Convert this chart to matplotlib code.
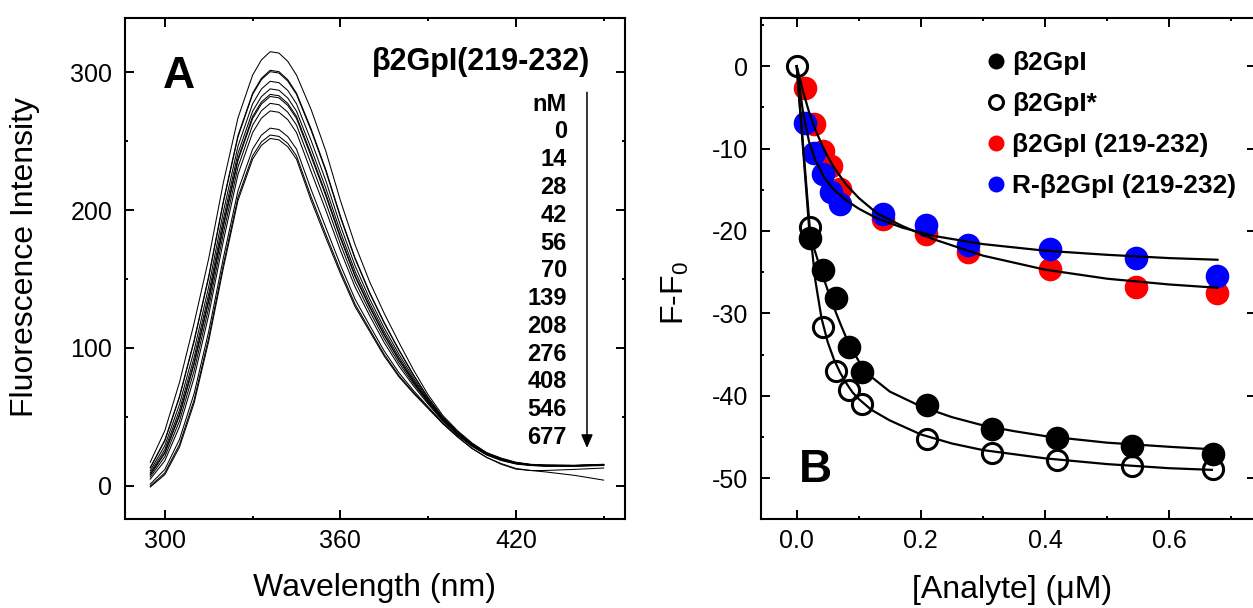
import numpy as np
import matplotlib
matplotlib.use("Agg")
import matplotlib.pyplot as plt
from matplotlib.lines import Line2D
from matplotlib.ticker import MultipleLocator

plt.rcParams['font.family'] = ['Liberation Sans', 'DejaVu Sans']
plt.rcParams['mathtext.fontset'] = 'custom'
plt.rcParams['mathtext.rm'] = 'Liberation Sans'
plt.rcParams['mathtext.default'] = 'regular'
plt.rcParams['axes.unicode_minus'] = False

# ---- panel A: emission spectra ----
wavelength = [295, 300, 305, 310, 315, 320, 325, 330, 333, 336, 339, 342, 345, 350, 355, 360,
              365, 370, 375, 380, 385, 390, 395, 400, 405, 410, 415, 420, 425, 430, 440, 450]

s0 = [17, 40, 75, 118, 165, 220, 267, 298, 309, 315, 314, 308, 298, 273, 243, 207,
      175, 148, 125, 104, 84, 66, 51, 40, 31, 24, 20, 17, 15.5, 15, 14.8, 15.5]
s14 = [13.1, 33.2, 64.9, 105.6, 152.2, 206.7, 254.2, 284.9, 295.7, 301.5, 300.5, 294.7, 284.9, 258.9, 229.5, 195.7,
       165.4, 140.3, 118.4, 98.7, 80.4, 63.9, 49.7, 39.1, 30.4, 23.6, 19.6, 16.7, 15.3, 14.8, 14.6, 15.3]
s28 = [12.9, 32.6, 64.2, 104.7, 151.2, 205.7, 253.2, 284.0, 294.7, 300.5, 299.5, 293.7, 284.0, 257.8, 228.5, 194.8,
       164.7, 139.7, 117.9, 98.3, 80.1, 63.7, 49.6, 39.1, 30.3, 23.5, 19.5, 16.7, 15.3, 14.8, 14.6, 15.3]
s42 = [10.9, 29.1, 59.0, 98.2, 144.5, 198.9, 246.5, 277.2, 287.9, 293.5, 292.5, 286.9, 277.2, 250.5, 221.5, 188.9,
       159.7, 135.7, 114.4, 95.5, 78.2, 62.6, 49.0, 38.6, 30.0, 23.3, 19.3, 16.5, 15.2, 14.7, 14.5, 15.2]
s56 = [9.3, 26.3, 54.8, 93.1, 139.3, 193.4, 241.3, 271.8, 282.4, 288.0, 287.0, 281.4, 271.8, 244.7, 216.0, 184.3,
       155.7, 132.6, 111.7, 93.3, 76.7, 61.7, 48.4, 38.3, 29.7, 23.1, 19.1, 16.4, 15.1, 14.6, 14.5, 15.1]
s70 = [8.1, 24.3, 51.9, 89.5, 135.5, 189.5, 237.5, 268.0, 278.5, 284.0, 283.0, 277.5, 268.0, 240.5, 212.0, 180.9,
       152.9, 130.3, 109.7, 91.7, 75.6, 61.1, 48.0, 38.0, 29.5, 23.0, 19.0, 16.3, 15.0, 14.5, 14.4, 15.0]
s139 = [7.7, 23.5, 50.7, 88.1, 134.0, 188.0, 236.0, 266.5, 277.0, 282.5, 281.5, 276.0, 266.5, 238.9, 210.5, 179.7,
        151.8, 129.4, 109.0, 91.1, 75.2, 60.8, 47.9, 37.9, 29.5, 23.0, 19.0, 16.2, 15.0, 14.5, 14.4, 15.0]
s208 = [6.3, 21.0, 47.0, 83.5, 129.3, 183.1, 231.3, 261.7, 272.1, 277.5, 276.5, 271.1, 261.7, 233.7, 205.5, 175.5,
        148.2, 126.6, 106.6, 89.1, 73.9, 60.1, 47.4, 37.6, 29.2, 22.8, 18.8, 16.1, 14.9, 14.4, 14.3, 14.9]
s276 = [4.7, 18.1, 42.9, 78.4, 124.0, 177.7, 226.0, 256.3, 266.7, 272.0, 271.0, 265.7, 256.3, 227.9, 200.0, 170.8,
        144.3, 123.4, 103.8, 86.9, 72.4, 59.2, 46.9, 37.3, 29.0, 22.6, 18.6, 16.0, 14.8, 14.3, 14.3, 14.8]
s408 = [1.1, 11.8, 33.6, 66.9, 112.1, 165.4, 214.1, 244.3, 254.4, 259.5, 258.5, 253.4, 244.3, 214.9, 187.5, 160.3,
        135.4, 116.3, 97.7, 82.0, 69.0, 57.2, 45.7, 36.5, 28.4, 22.2, 18.2, 15.7, 14.6, 14.1, 14.1, 14.6]
s546 = [-0.3, 9.3, 29.9, 62.3, 107.4, 160.5, 209.4, 239.4, 249.5, 254.5, 253.5, 248.5, 239.4, 209.6, 182.5, 156.1,
        131.8, 113.4, 95.2, 80.0, 67.7, 56.4, 45.2, 35.5, 27, 20.5, 16, 12.5, 11, 10, 7.5, 4]
s677 = [-1, 8, 28, 60, 105, 158, 207, 237, 247, 252, 251, 246, 237, 207, 180, 154,
        130, 112, 94, 79, 67, 56, 45, 35.5, 27, 20.5, 15.5, 12, 11, 11, 11.8, 12.8]

spectra = [s0, s14, s28, s42, s56, s70, s139, s208, s276, s408, s546, s677]
conc_labels = ['0', '14', '28', '42', '56', '70', '139', '208', '276', '408', '546', '677']

# ---- panel B: titration data ----
gpi_x = [0.021, 0.042, 0.063, 0.084, 0.105, 0.21, 0.315, 0.42, 0.54, 0.67]
gpi_y = [-20.8, -24.7, -28.1, -34.1, -37.1, -41.1, -44.0, -45.1, -46.1, -47.1]
gpis_x = [0, 0.021, 0.042, 0.063, 0.084, 0.105, 0.21, 0.315, 0.42, 0.54, 0.67]
gpis_y = [0, -19.5, -31.7, -37.0, -39.3, -41.0, -45.3, -47.0, -47.8, -48.5, -48.9]
pep_x = [0.014, 0.028, 0.042, 0.056, 0.070, 0.139, 0.208, 0.276, 0.408, 0.546, 0.677]
pep_y = [-2.7, -7.0, -10.3, -12.1, -14.9, -18.6, -20.4, -22.6, -24.6, -26.8, -27.5]
rpep_y = [-6.9, -10.5, -13.1, -15.3, -16.7, -18.0, -19.3, -21.7, -22.2, -23.3, -25.5]

# fitted curves
fit_b_x = [0, 0.021, 0.03, 0.04, 0.05, 0.06, 0.07, 0.08, 0.09, 0.1, 0.12, 0.15, 0.2, 0.25, 0.3, 0.35, 0.4, 0.5, 0.6, 0.669]
fit_gpi = [0, -20.6, -22.6, -25.0, -27.2, -29.3, -31.2, -33.0, -34.5, -35.8, -37.7, -39.5, -41.3, -42.6,
           -43.6, -44.3, -44.9, -45.7, -46.2, -46.5]
fit_gpis = [0, -19.6, -26.0, -30.6, -33.5, -35.6, -37.2, -38.5, -39.6, -40.4, -41.7, -43.0, -44.7, -45.8,
            -46.6, -47.1, -47.6, -48.3, -48.8, -49.0]
fit_p_x = [0, 0.01, 0.02, 0.03, 0.045, 0.06, 0.08, 0.1, 0.13, 0.17, 0.22, 0.3, 0.4, 0.5, 0.6, 0.678]
fit_pep = [0, -3.0, -5.6, -7.7, -10.3, -12.3, -14.4, -16.0, -17.9, -19.4, -21.0, -23.0, -24.7, -25.8, -26.5, -26.9]
fit_rpep = [0, -5.5, -9.2, -11.4, -13.6, -15.0, -16.3, -17.3, -18.5, -19.6, -20.6, -21.6, -22.4, -22.9, -23.3, -23.5]

fig = plt.figure(figsize=(12.53, 6.08), dpi=100)
axA = fig.add_axes([0.0996, 0.1464, 0.3992, 0.8248])
axB = fig.add_axes([0.6071, 0.1459, 0.3953, 0.8253])


def style_axes(ax):
    for sp in ax.spines.values():
        sp.set_linewidth(1.5)
    ax.tick_params(which='both', direction='in', top=True, right=True, width=1.4, labelsize=18)
    ax.tick_params(which='major', length=6.3)
    ax.tick_params(which='minor', length=2.5)
    ax.tick_params(axis='x', pad=7)
    ax.tick_params(axis='y', pad=9)


# panel A
for s in spectra:
    axA.plot(wavelength, s, color='black', lw=0.75)
axA.set_xlim(286.3, 457.3)
axA.set_ylim(-24.2, 339.8)
axA.xaxis.set_major_locator(MultipleLocator(60))
axA.xaxis.set_minor_locator(MultipleLocator(30))
axA.yaxis.set_major_locator(MultipleLocator(100))
axA.yaxis.set_minor_locator(MultipleLocator(50))
style_axes(axA)
axA.set_xlabel('Wavelength (nm)', fontsize=23)
axA.set_ylabel('Fluorescence Intensity', fontsize=23)
axA.xaxis.set_label_coords(0.5, -0.107)
axA.yaxis.set_label_coords(-0.170, 0.522)

axA.text(0.108, 0.883, 'A', transform=axA.transAxes, fontsize=32, fontweight='bold',
         ha='center', va='center')
axA.text(0.930, 0.911, 'β2GpI(219-232)', transform=axA.transAxes, fontsize=22,
         fontweight='bold', ha='right', va='center')
axA.text(0.884, (519 - 104) / 501.5, 'nM', transform=axA.transAxes, fontsize=17,
         fontweight='bold', ha='right', va='center')
for i, lab in enumerate(conc_labels):
    yy = (519 - (131.8 + 27.8 * i)) / 501.5
    axA.text(0.884, yy, lab, transform=axA.transAxes, fontsize=17,
             fontweight='bold', ha='right', va='center')
axA.annotate('', xy=(0.924, 0.1416), xytext=(0.924, 0.851), xycoords='axes fraction',
             arrowprops=dict(arrowstyle='-|>,head_length=0.8,head_width=0.35', lw=1.1,
                             color='black', shrinkA=0, shrinkB=0))

# panel B
axB.plot(pep_x, pep_y, 'o', ls='none', color='#ff0000', ms=17, mew=0, zorder=2)
axB.plot(pep_x, rpep_y, 'o', ls='none', color='#0000ff', ms=17, mew=0, zorder=3)
axB.plot(fit_b_x, fit_gpi, color='black', lw=1.6, zorder=4)
axB.plot(fit_b_x, fit_gpis, color='black', lw=1.6, zorder=4)
axB.plot(fit_p_x, fit_pep, color='black', lw=1.6, zorder=4)
axB.plot(fit_p_x, fit_rpep, color='black', lw=1.6, zorder=4)
axB.plot(gpi_x, gpi_y, 'o', ls='none', color='black', ms=17, mew=0, zorder=5)
axB.plot(gpis_x, gpis_y, 'o', ls='none', mfc='none', mec='black', ms=14.5, mew=2.2, zorder=6)

axB.set_xlim(-0.058, 0.740)
axB.set_ylim(-55.0, 5.9)
axB.xaxis.set_major_locator(MultipleLocator(0.2))
axB.xaxis.set_minor_locator(MultipleLocator(0.1))
axB.yaxis.set_major_locator(MultipleLocator(10))
axB.yaxis.set_minor_locator(MultipleLocator(5))
axB.xaxis.set_major_formatter(plt.FuncFormatter(lambda v, p: f'{v:.1f}'))
style_axes(axB)
axB.set_xlabel('[Analyte] (μM)', fontsize=23)
axB.set_ylabel('F-F$_0$', fontsize=23)
axB.xaxis.set_label_coords(0.507, -0.112)
axB.yaxis.set_label_coords(-0.14, 0.451)
axB.text(0.1096, 0.098, 'B', transform=axB.transAxes, fontsize=33, fontweight='bold',
         ha='center', va='center')

handles = [
    Line2D([], [], ls='none', marker='o', mfc='black', mec='black', ms=11.5, mew=0),
    Line2D([], [], ls='none', marker='o', mfc='none', mec='black', ms=10, mew=2.2),
    Line2D([], [], ls='none', marker='o', mfc='#ff0000', mec='#ff0000', ms=11.5, mew=0),
    Line2D([], [], ls='none', marker='o', mfc='#0000ff', mec='#0000ff', ms=11.5, mew=0),
]
labels = ['β2GpI', 'β2GpI*', 'β2GpI (219-232)', 'R-β2GpI (219-232)']
axB.legend(handles, labels, loc='upper left', bbox_to_anchor=(0.454, 0.933), frameon=False,
           borderpad=0, borderaxespad=0, handlelength=0.8, handletextpad=0.2,
           labelspacing=0.64, prop={'weight': 'bold', 'size': 19})

fig.savefig('out.png', dpi=100)
